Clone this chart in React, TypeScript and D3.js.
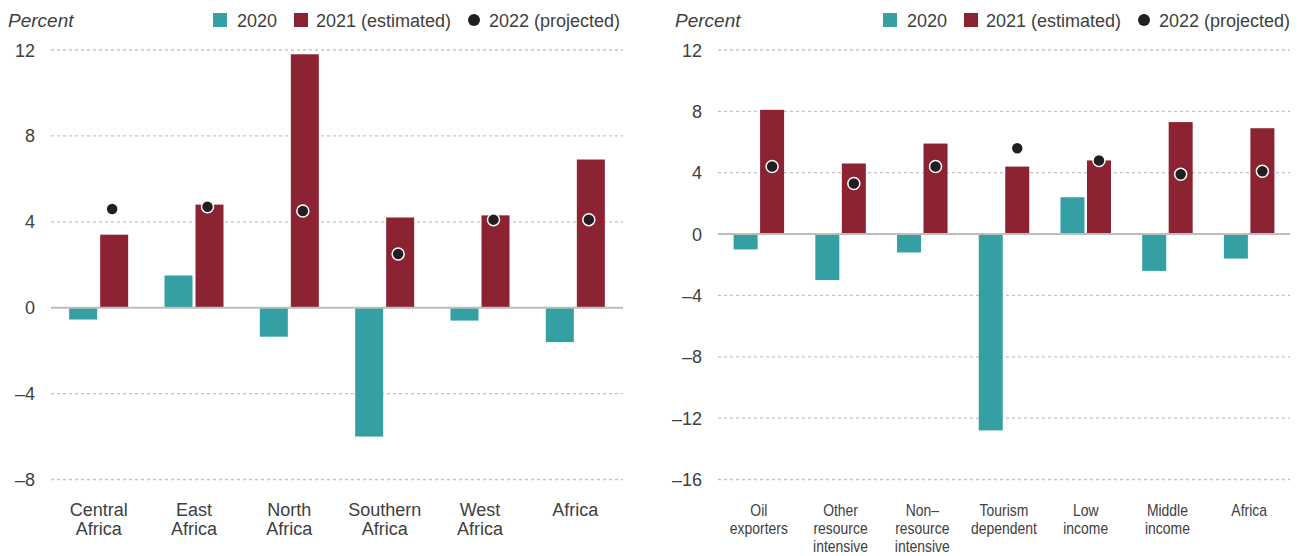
import React from "react";
import * as d3 from "d3";

const leftLabels = [["Central", "Africa"], ["East", "Africa"], ["North", "Africa"], ["Southern", "Africa"], ["West", "Africa"], ["Africa"]];
const left2020 = [-0.55, 1.5, -1.35, -6.0, -0.6, -1.6];
const left2021 = [3.4, 4.8, 11.8, 4.2, 4.3, 6.9];
const left2022 = [4.6, 4.7, 4.5, 2.5, 4.1, 4.1];
const leftTicks = [-8, -4, 0, 4, 8, 12];

const rightLabels = [["Oil", "exporters"], ["Other", "resource", "intensive"], ["Non–", "resource", "intensive"], ["Tourism", "dependent"], ["Low", "income"], ["Middle", "income"], ["Africa"]];
const right2020 = [-1.0, -3.0, -1.2, -12.8, 2.4, -2.4, -1.6];
const right2021 = [8.1, 4.6, 5.9, 4.4, 4.8, 7.3, 6.9];
const right2022 = [4.4, 3.3, 4.4, 5.6, 4.8, 3.9, 4.1];
const rightTicks = [-16, -12, -8, -4, 0, 4, 8, 12];

const legendLabels = ["2020", "2021 (estimated)", "2022 (projected)"];

const TEAL = "#34a0a4";
const RED = "#8b2332";
const DOT = "#231f20";
const TEXT = "#404040";
const GRID = "#c4c4c4";

const fmt = (v: number) => (v < 0 ? "–" + Math.abs(v) : String(v));

type PanelProps = {
  x0: number; x1: number; domain: [number, number]; ticks: number[];
  labels: string[][]; a: number[]; b: number[]; c: number[];
  barW: number; gap: number; labelSize: number; labelLH: number; labelY: number; labelSX: number;
  dotDx: number; legendX: number; tickX: number; percentX: number;
};

function Panel(p: PanelProps) {
  const y = d3.scaleLinear().domain(p.domain).range([479.5, 50]);
  const names = p.labels.map((l) => l.join(" "));
  const x = d3.scaleBand<string>().domain(names).range([p.x0, p.x1]);
  const groupW = p.barW * 2 + p.gap;
  const cx = (i: number) => (x(names[i]) as number) + x.bandwidth() / 2;
  const lx = p.legendX;
  return (
    <g>
      <text x={p.percentX} y={27} fontSize={19} fontStyle="italic" fill={TEXT}>Percent</text>
      <rect x={lx} y={13} width={14} height={14} fill={TEAL} />
      <text x={lx + 24} y={27} fontSize={18} fill={TEXT}>{legendLabels[0]}</text>
      <rect x={lx + 81} y={13} width={14} height={14} fill={RED} />
      <text x={lx + 103} y={27} fontSize={18} fill={TEXT}>{legendLabels[1]}</text>
      <circle cx={lx + 261} cy={20} r={6} fill={DOT} />
      <text x={lx + 276} y={27} fontSize={18} fill={TEXT}>{legendLabels[2]}</text>
      {p.ticks.map((t) => (
        <g key={t}>
          {t !== 0 && (
            <line x1={p.x0} x2={p.x1} y1={y(t)} y2={y(t)} stroke={GRID} strokeWidth={1.3} strokeDasharray="3,3" />
          )}
          <text x={p.tickX} y={y(t) + 6.5} textAnchor="end" fontSize={18} fill={TEXT}>{fmt(t)}</text>
        </g>
      ))}
      {p.a.map((v, i) => (
        <rect key={"a" + i} x={cx(i) - groupW / 2} width={p.barW} y={Math.min(y(v), y(0))} height={Math.abs(y(v) - y(0))} fill={TEAL} />
      ))}
      {p.b.map((v, i) => (
        <rect key={"b" + i} x={cx(i) - groupW / 2 + p.barW + p.gap} width={p.barW} y={Math.min(y(v), y(0))} height={Math.abs(y(v) - y(0))} fill={RED} />
      ))}
      <line x1={p.x0} x2={p.x1} y1={y(0)} y2={y(0)} stroke="#bdbdbd" strokeWidth={2} />
      {p.c.map((v, i) => (
        <circle key={"c" + i} cx={cx(i) + groupW / 2 - p.barW / 2 + p.dotDx} cy={y(v)} r={6} fill={DOT} stroke="#ffffff" strokeWidth={1.5} />
      ))}
      {p.labels.map((lines, i) => (
        <g key={"l" + i} transform={`translate(${cx(i)},0) scale(${p.labelSX},1)`}>
          <text x={0} y={p.labelY} textAnchor="middle" fontSize={p.labelSize} fill={TEXT}>
            {lines.map((ln, j) => (
              <tspan key={j} x={0} dy={j === 0 ? 0 : p.labelLH}>{ln}</tspan>
            ))}
          </text>
        </g>
      ))}
    </g>
  );
}

export default function App() {
  return (
    <svg width={1299} height={556} style={{ position: "absolute", left: 0, top: 0, background: "#fff" }} fontFamily="Liberation Sans, Arial, sans-serif">
      <Panel x0={51} x1={623} domain={[-8, 12]} ticks={leftTicks} labels={leftLabels}
        a={left2020} b={left2021} c={left2022} barW={28} gap={3}
        labelSize={18} labelLH={19} labelY={515.5} labelSX={1}
        dotDx={-2} legendX={213} tickX={35} percentX={8} />
      <Panel x0={718} x1={1290} domain={[-16, 12]} ticks={rightTicks} labels={rightLabels}
        a={right2020} b={right2021} c={right2022} barW={24} gap={2.5}
        labelSize={17} labelLH={18} labelY={516} labelSX={0.82}
        dotDx={0} legendX={883} tickX={702} percentX={675} />
    </svg>
  );
}
